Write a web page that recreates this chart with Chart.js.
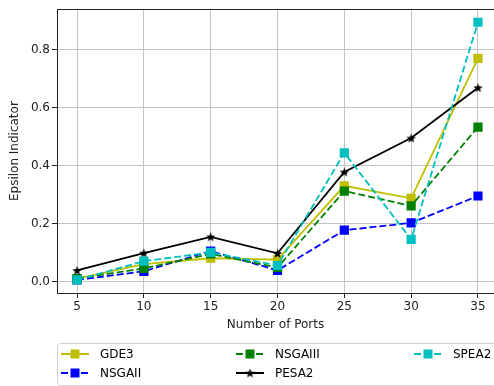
<!DOCTYPE html>
<html>
<head>
<meta charset="utf-8">
<script src="https://cdn.jsdelivr.net/npm/chart.js@4/dist/chart.umd.min.js"></script>
<style>
  html, body { margin: 0; padding: 0; background: #fff; overflow: hidden; }
  canvas { display: block; }
</style>
</head>
<body>
<canvas id="chart" width="494" height="386"></canvas>
<script>
const ports = [5, 10, 15, 20, 25, 30, 35];
const yTicks = [0, 0.2, 0.4, 0.6, 0.8];

const gde3 = [0.010, 0.060, 0.080, 0.075, 0.330, 0.287, 0.770];
const nsgaii = [0.005, 0.035, 0.105, 0.038, 0.177, 0.202, 0.295];
const nsgaiii = [0.010, 0.045, 0.095, 0.048, 0.312, 0.261, 0.533];
const pesa2 = [0.038, 0.098, 0.154, 0.097, 0.378, 0.495, 0.669];
const spea2 = [0.005, 0.070, 0.100, 0.055, 0.444, 0.145, 0.895];

const FONT = "'DejaVu Sans', sans-serif";

// filled five-point star marker
function starMarker(size, color) {
  const c = document.createElement("canvas");
  c.width = size; c.height = size;
  const g = c.getContext("2d");
  const cx = size / 2, cy = size / 2 + 0.5, ro = size / 2 - 0.5, ri = ro * 0.42;
  g.beginPath();
  for (let i = 0; i < 10; i++) {
    const r = i % 2 === 0 ? ro : ri;
    const a = -Math.PI / 2 + i * Math.PI / 5;
    g.lineTo(cx + r * Math.cos(a), cy + r * Math.sin(a));
  }
  g.closePath();
  g.fillStyle = color;
  g.fill();
  return c;
}
const star = starMarker(11, "#000000");

function series(label, data, color, dashed, marker) {
  return {
    label,
    data: data.map((v, i) => ({ x: ports[i], y: v })),
    borderColor: color,
    backgroundColor: color,
    borderWidth: 1.8,
    borderDash: dashed ? [7, 3] : [],
    pointStyle: marker,
    pointRadius: 6.5,
    pointBorderWidth: 0,
    pointBackgroundColor: color,
    tension: 0,
    fill: false,
  };
}

const datasets = [
  series("GDE3", gde3, "#bfbf00", false, "rect"),
  series("NSGAII", nsgaii, "#0000ff", true, "rect"),
  series("NSGAIII", nsgaiii, "#008000", true, "rect"),
  series("PESA2", pesa2, "#000000", false, star),
  series("SPEA2", spea2, "#00bfbf", true, "rect"),
];
// later series sit on top
datasets.forEach((d, i) => (d.order = datasets.length - i));

// top spine of the plot area
const frame = {
  id: "frame",
  afterDatasetsDraw(chart) {
    const { ctx, chartArea: a } = chart;
    ctx.save();
    ctx.strokeStyle = "#222";
    ctx.lineWidth = 1;
    ctx.beginPath();
    ctx.moveTo(Math.round(a.left), Math.round(a.top) + 0.5);
    ctx.lineTo(a.right, Math.round(a.top) + 0.5);
    ctx.stroke();
    ctx.restore();
  },
};

// three-column legend below the axis, filled column by column
const legendBox = {
  id: "legendBox",
  afterDraw(chart) {
    const ctx = chart.ctx;
    ctx.save();
    const x0 = 57.5, y0 = 343.5, w = 440, h = 42, r = 3;
    ctx.beginPath();
    ctx.roundRect(x0, y0, w, h, r);
    ctx.fillStyle = "rgba(255,255,255,0.8)";
    ctx.fill();
    ctx.strokeStyle = "#d0d0d0";
    ctx.lineWidth = 1;
    ctx.stroke();

    const cols = [61, 236, 414];
    const rows = [354, 373];
    ctx.font = "12px " + FONT;
    ctx.textBaseline = "middle";
    chart.data.datasets.forEach((d, i) => {
      const col = Math.floor(i / 2), row = i % 2;
      const sx = cols[col], sy = rows[row];
      ctx.strokeStyle = d.borderColor;
      ctx.lineWidth = 2;
      ctx.setLineDash(d.borderDash);
      ctx.beginPath();
      ctx.moveTo(sx, sy);
      ctx.lineTo(sx + 28, sy);
      ctx.stroke();
      ctx.setLineDash([]);
      if (d.pointStyle === "rect") {
        ctx.fillStyle = d.borderColor;
        ctx.fillRect(sx + 14 - 4.5, sy - 4.5, 9, 9);
      } else {
        ctx.drawImage(d.pointStyle, sx + 14 - 5.5, sy - 5.5);
      }
      ctx.fillStyle = "#000";
      ctx.fillText(d.label, sx + 39, sy + 1);
    });
    ctx.restore();
  },
};

new Chart(document.getElementById("chart"), {
  type: "line",
  data: { datasets },
  plugins: [frame, legendBox],
  options: {
    responsive: false,
    animation: false,
    layout: { autoPadding: false, padding: { left: 4, top: 7, right: 0, bottom: 50 } },
    plugins: { legend: { display: false }, tooltip: { enabled: false } },
    scales: {
      x: {
        type: "linear",
        min: 3.5,
        max: 36.2,
        afterBuildTicks: (s) => { s.ticks = ports.map((v) => ({ value: v })); },
        afterFit: (s) => { s.height = 43; s.paddingLeft = 0; s.paddingRight = 0; },
        grid: { color: "#c4c4c4", lineWidth: 1, tickLength: 5, tickColor: "#222" },
        border: { color: "#222", width: 1 },
        ticks: { color: "#222", padding: 2, font: { family: FONT, size: 12 } },
        title: { display: true, text: "Number of Ports", color: "#222", font: { family: FONT, size: 12 } },
      },
      y: {
        type: "linear",
        min: -0.04,
        max: 0.94,
        afterBuildTicks: (s) => { s.ticks = yTicks.map((v) => ({ value: v })); },
        afterFit: (s) => { s.width = 53; },
        grid: { color: "#c4c4c4", lineWidth: 1, tickLength: 5, tickColor: "#222" },
        border: { color: "#222", width: 1 },
        ticks: { color: "#222", padding: 2, font: { family: FONT, size: 12 }, callback: (v) => v.toFixed(1) },
        title: { display: true, text: "Epsilon Indicator", color: "#222", font: { family: FONT, size: 12 } },
      },
    },
  },
});
</script>
</body>
</html>
